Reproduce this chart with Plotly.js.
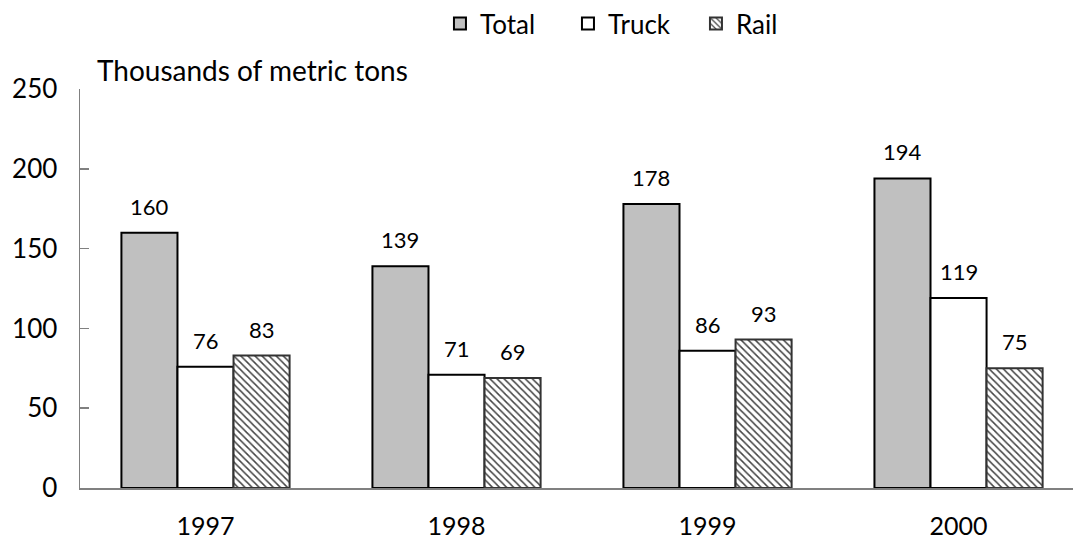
<!DOCTYPE html>
<html>
<head>
<meta charset="utf-8">
<script src="https://cdn.plot.ly/plotly-3.0.1.min.js"></script>
<style>html,body{margin:0;padding:0;background:#fff;}#chart{width:1073px;height:542px;}</style>
</head>
<body>
<div id="chart"></div>
<script>
const years = ["1997", "1998", "1999", "2000"];
const totalValues = [160, 139, 178, 194];
const truckValues = [76, 71, 86, 119];
const railValues = [83, 69, 93, 75];
const seriesNames = ["Total", "Truck", "Rail"];
const yTicks = [0, 50, 100, 150, 200, 250];

const FONT = "Lato, 'Open Sans', sans-serif";
const bargap = 0.33;

const traces = [
  {type: "bar", name: seriesNames[0], x: years, y: totalValues,
   marker: {color: "#c0c0c0", line: {color: "#000", width: 2}}},
  {type: "bar", name: seriesNames[1], x: years, y: truckValues,
   marker: {color: "#ffffff", line: {color: "#000", width: 2}}},
  {type: "bar", name: seriesNames[2], x: years, y: railValues,
   marker: {color: "#ffffff", line: {color: "#333", width: 2},
            pattern: {shape: "\\", fgcolor: "#444", bgcolor: "#ffffff", size: 5, solidity: 0.3}}}
];

const allSeries = [totalValues, truckValues, railValues];
const groupW = 1 - bargap;
const barW = groupW / allSeries.length;
const annotations = [];
allSeries.forEach((vals, k) => {
  vals.forEach((v, i) => {
    annotations.push({
      x: i - groupW / 2 + barW * (k + 0.5), y: v, xref: "x", yref: "y",
      text: String(v), showarrow: false, yanchor: "bottom", yshift: 11,
      font: {family: FONT, size: 22, color: "#000"}
    });
  });
});
annotations.push({
  xref: "paper", yref: "paper", x: 0.015, y: 1.0, xanchor: "left", yanchor: "bottom",
  text: "Thousands of metric tons", showarrow: false,
  font: {family: FONT, size: 28, color: "#000"}
});

const layout = {
  width: 1073, height: 542,
  margin: {l: 80, r: 0, t: 89, b: 54, pad: 0},
  paper_bgcolor: "#fff", plot_bgcolor: "#fff",
  barmode: "group", bargap: bargap, bargroupgap: 0,
  font: {family: FONT, color: "#000"},
  showlegend: true,
  legend: {orientation: "h", x: 0.3625, xanchor: "left", y: 1.165, yanchor: "middle",
           font: {family: FONT, size: 26, color: "#000"}, entrywidth: 83, entrywidthmode: "pixels",
           traceorder: "normal"},
  xaxis: {type: "category", range: [-0.5, 3.456], showline: true, linecolor: "#808080", linewidth: 2,
          ticks: "", tickfont: {family: FONT, size: 25, color: "#000"}, ticklabelstandoff: 15,
          showgrid: false, zeroline: false},
  yaxis: {range: [0, 250], tickvals: yTicks, showline: true, linecolor: "#808080", linewidth: 1.5,
          ticks: "inside", ticklen: 9, tickcolor: "#808080", tickwidth: 1.5,
          tickfont: {family: FONT, size: 26, color: "#000"}, ticklabelstandoff: 16,
          showgrid: false, zeroline: false},
  annotations: annotations
};

Plotly.newPlot("chart", traces, layout, {staticPlot: true});
</script>
</body>
</html>
